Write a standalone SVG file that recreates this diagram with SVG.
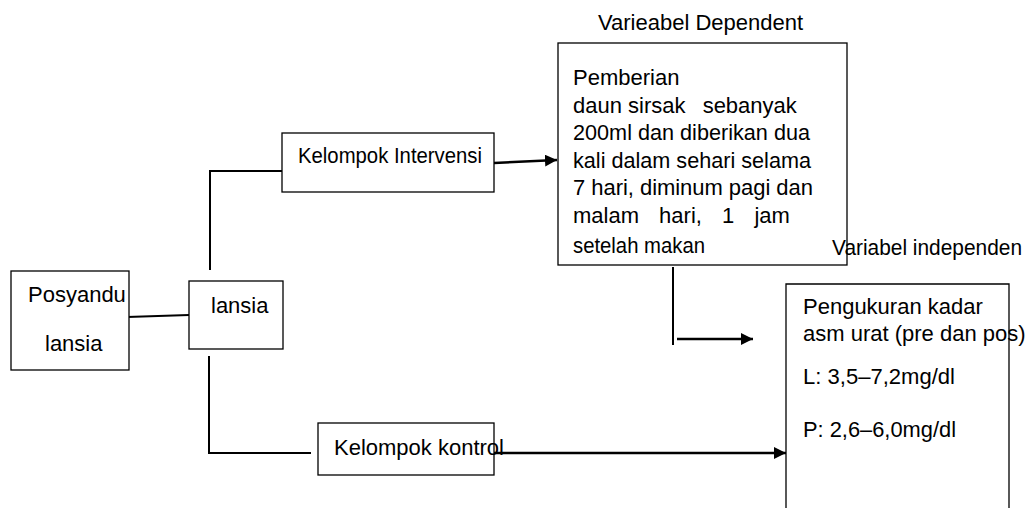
<svg xmlns="http://www.w3.org/2000/svg" width="1036" height="508" viewBox="0 0 1036 508">
<style>
.box{fill:#fff;stroke:#000;stroke-width:1.3}
.t{font-family:"Liberation Sans",Arial,sans-serif;font-size:22px;fill:#000}
.c{fill:none;stroke:#000;stroke-width:2}
.a{fill:none;stroke:#000;stroke-width:2.5}
</style>
<defs>
<marker id="ah" markerWidth="12" markerHeight="12" refX="12" refY="6" orient="auto" markerUnits="userSpaceOnUse">
<path d="M0,0 L12,6 L0,12 Z" fill="#000"/>
</marker>
</defs>
<rect width="1036" height="508" fill="#fff"/>
<g id="connectors">
<path class="c" d="M127,317 L189,315"/>
<path class="c" d="M210,270 V171 H282"/>
<path class="c" d="M209,356 V453 H311"/>
<path class="a" d="M494,163 L557,160" marker-end="url(#ah)"/>
<path class="c" d="M673,267 V345"/>
<path class="a" d="M677,339 L753,339" marker-end="url(#ah)"/>
<path class="a" d="M494,453 L786,453" marker-end="url(#ah)"/>
</g>
<g id="posyandu">
<rect class="box" x="11" y="271" width="118" height="99"/>
<text class="t" x="28" y="302">Posyandu</text>
<text class="t" x="45" y="351">lansia</text>
</g>
<g id="lansia">
<rect class="box" x="189" y="281" width="94" height="68"/>
<text class="t" x="211" y="313">lansia</text>
</g>
<g id="intervensi">
<rect class="box" x="282" y="133" width="212" height="59"/>
<text class="t" x="298" y="163" textLength="184" lengthAdjust="spacingAndGlyphs">Kelompok Intervensi</text>
</g>
<g id="kontrol">
<rect class="box" x="318" y="423" width="176" height="52"/>
<text class="t" x="334" y="455">Kelompok kontrol</text>
</g>
<g id="dependent">
<text class="t" x="598" y="30">Varieabel Dependent</text>
<rect class="box" x="558" y="43" width="289" height="222"/>
<text class="t" x="573" y="85">Pemberian</text>
<text class="t" x="573" y="113">daun sirsak<tspan dx="11"> sebanyak</tspan></text>
<text class="t" x="573" y="140" textLength="237" lengthAdjust="spacingAndGlyphs">200ml dan diberikan dua</text>
<text class="t" x="573" y="168" textLength="238" lengthAdjust="spacingAndGlyphs">kali dalam sehari selama</text>
<text class="t" x="573" y="195" textLength="240" lengthAdjust="spacing">7 hari, diminum pagi dan</text>
<text class="t" x="573" y="223" word-spacing="14">malam hari, 1 jam</text>
<text class="t" x="573" y="253" textLength="132" lengthAdjust="spacingAndGlyphs">setelah makan</text>
</g>
<g id="independent">
<text class="t" x="832" y="255" textLength="190" lengthAdjust="spacingAndGlyphs">Variabel independen</text>
<path class="box" d="M786,510 V284 H1009 V510"/>
<text class="t" x="803" y="314">Pengukuran kadar</text>
<text class="t" x="803" y="341">asm urat (pre dan pos)</text>
<text class="t" x="803" y="384" textLength="152" lengthAdjust="spacingAndGlyphs">L: 3,5–7,2mg/dl</text>
<text class="t" x="803" y="437" textLength="153" lengthAdjust="spacingAndGlyphs">P: 2,6–6,0mg/dl</text>
</g>
</svg>
